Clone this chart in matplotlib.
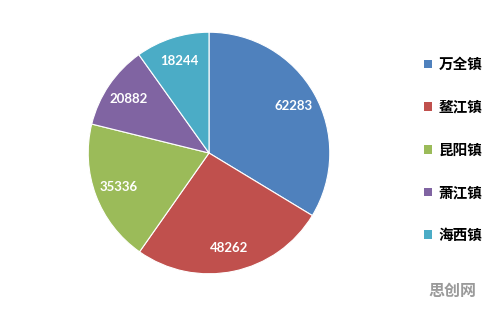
import matplotlib.pyplot as plt
from matplotlib.patches import Patch

# Data
towns = ["万全镇", "鳌江镇", "昆阳镇", "萧江镇", "海西镇"]
values = [62283, 48262, 35336, 20882, 18244]
colors = ["#4F81BD", "#C0504D", "#9BBB59", "#8064A2", "#4BACC6"]

plt.rcParams["font.family"] = ["Noto Sans CJK SC", "DejaVu Sans"]

fig = plt.figure(figsize=(4.96, 3.09), dpi=100)
fig.patch.set_facecolor("white")

# pie axes: centre ~(209,153) px, radius ~122 px
cx, cy, r = 209, 153, 122
ax = fig.add_axes([(cx - r) / 496, (309 - cy - r) / 309, 2 * r / 496, 2 * r / 309])

wedges, texts, autotexts = ax.pie(
    values,
    colors=colors,
    startangle=90,
    counterclock=False,
    autopct=lambda p: f"{round(p * sum(values) / 100):d}",
    pctdistance=0.8,
    wedgeprops=dict(edgecolor="white", linewidth=0.8),
)
for t in autotexts:
    t.set_color("white")
    t.set_fontweight("bold")
    t.set_fontsize(9.5)
    t.set_family("Lato")

ax.set_xlim(-1.01, 1.01)
ax.set_ylim(-1.01, 1.01)
ax.set_aspect("equal")

# Legend
handles = [Patch(facecolor=c, edgecolor="none") for c in colors]
leg = fig.legend(
    handles, towns,
    loc="upper left",
    bbox_to_anchor=(411 / 496, 1 - 43 / 309),
    frameon=False,
    prop=dict(family=["Noto Sans CJK SC", "DejaVu Sans"], weight="bold", size=10.5),
    handlelength=0.55, handleheight=0.55, handletextpad=0.45,
    labelspacing=1.83,
)

# Watermark
fig.text(476 / 496, 1 - 291 / 309, "思创网", color="#9a9a9a", fontsize=11.5,
         fontweight="bold", ha="right", va="center")

fig.savefig("out.png", dpi=100)
